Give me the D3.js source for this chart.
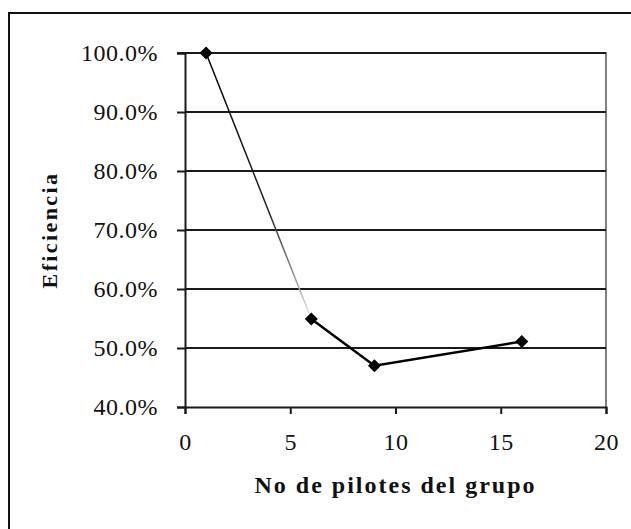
<!DOCTYPE html>
<html>
<head>
<meta charset="utf-8">
<script src="https://cdn.jsdelivr.net/npm/d3@7"></script>
<style>
  html, body { margin: 0; padding: 0; background: #fff; }
  svg { display: block; }
</style>
</head>
<body>
<script>
// group size vs efficiency
const pileCounts = [1, 6, 9, 16];
const efficiency = [1.0, 0.549, 0.47, 0.511];
const xTicks = [0, 5, 10, 15, 20];
const yTicks = [0.4, 0.5, 0.6, 0.7, 0.8, 0.9, 1.0];
const xTitle = 'No de pilotes del grupo';
const yTitle = 'Eficiencia';

const width = 631;
const height = 529;
const plot = { left: 185, right: 606, top: 53, bottom: 407 };
const serif = "'Liberation Serif', 'Times New Roman', serif";

const svg = d3.select('body')
  .append('svg')
  .attr('width', width)
  .attr('height', height);

// outer frame, only top and left fall inside the picture
svg.append('rect')
  .attr('x', 9).attr('y', 13)
  .attr('width', 700).attr('height', 600)
  .attr('fill', 'none')
  .attr('stroke', '#111')
  .attr('stroke-width', 2);

const x = d3.scaleLinear().domain([0, 20]).range([plot.left, plot.right]);
const y = d3.scaleLinear().domain([0.4, 1.0]).range([plot.bottom, plot.top]);

// plot area border (gray right/top)
svg.append('path')
  .attr('d', `M${plot.left},${plot.top}H${plot.right}V${plot.bottom}`)
  .attr('fill', 'none')
  .attr('stroke', '#808080')
  .attr('stroke-width', 2);

// horizontal gridlines
svg.append('g')
  .selectAll('line')
  .data(yTicks.filter((d) => d > 0.4 && d < 1.0))
  .join('line')
  .attr('x1', plot.left).attr('x2', plot.right)
  .attr('y1', (d) => y(d)).attr('y2', (d) => y(d))
  .attr('stroke', '#1a1a1a')
  .attr('stroke-width', 2);

function styleAxis(g) {
  g.attr('font-size', 24).attr('font-family', serif);
  g.select('.domain').attr('stroke', '#1a1a1a').attr('stroke-width', 2);
  g.selectAll('.tick line').attr('stroke', '#1a1a1a').attr('stroke-width', 2);
  g.selectAll('.tick text').attr('fill', '#111').attr('letter-spacing', 0.5);
}

// y axis
svg.append('g')
  .attr('transform', `translate(${plot.left},0)`)
  .call(d3.axisLeft(y).tickValues(yTicks).tickSize(8).tickPadding(19)
    .tickFormat(d3.format('.1%')))
  .call(styleAxis);

// x axis
svg.append('g')
  .attr('transform', `translate(0,${plot.bottom})`)
  .call(d3.axisBottom(x).tickValues(xTicks).tickSize(7).tickPadding(19))
  .call(styleAxis);

// 100% line over the border at the left
svg.append('line')
  .attr('x1', plot.left - 8).attr('x2', plot.right)
  .attr('y1', y(1.0)).attr('y2', y(1.0))
  .attr('stroke', '#1a1a1a')
  .attr('stroke-width', 2);

const pts = pileCounts.map((d, i) => [x(d), y(efficiency[i])]);

// first segment fades from black to light gray
const grad = svg.append('defs').append('linearGradient')
  .attr('id', 'fade')
  .attr('gradientUnits', 'userSpaceOnUse')
  .attr('x1', pts[0][0]).attr('y1', pts[0][1])
  .attr('x2', pts[1][0]).attr('y2', pts[1][1]);
grad.append('stop').attr('offset', '0').attr('stop-color', '#000');
grad.append('stop').attr('offset', '0.6').attr('stop-color', '#222');
grad.append('stop').attr('offset', '0.85').attr('stop-color', '#999');
grad.append('stop').attr('offset', '1').attr('stop-color', '#eee');

const line = d3.line();
svg.append('path')
  .attr('d', line(pts.slice(0, 2)))
  .attr('fill', 'none')
  .attr('stroke', 'url(#fade)')
  .attr('stroke-width', 1.5);
svg.append('path')
  .attr('d', line(pts.slice(1)))
  .attr('fill', 'none')
  .attr('stroke', '#000')
  .attr('stroke-width', 2.5);

// diamond markers
svg.append('g')
  .selectAll('path')
  .data(pts)
  .join('path')
  .attr('d', d3.symbol(d3.symbolSquare, 85))
  .attr('transform', (d) => `translate(${d[0]},${d[1]}) rotate(45)`)
  .attr('fill', '#000');

// axis titles
svg.append('text')
  .attr('x', (plot.left + plot.right) / 2)
  .attr('y', 493)
  .attr('text-anchor', 'middle')
  .attr('font-family', serif)
  .attr('font-size', 24)
  .attr('font-weight', 'bold')
  .attr('letter-spacing', 2)
  .attr('fill', '#111')
  .text(xTitle);

svg.append('text')
  .attr('transform', `translate(57,${(plot.top + plot.bottom) / 2}) rotate(-90)`)
  .attr('text-anchor', 'middle')
  .attr('font-family', serif)
  .attr('font-size', 22)
  .attr('font-weight', 'bold')
  .attr('letter-spacing', 2.4)
  .attr('fill', '#111')
  .text(yTitle);
</script>
</body>
</html>
